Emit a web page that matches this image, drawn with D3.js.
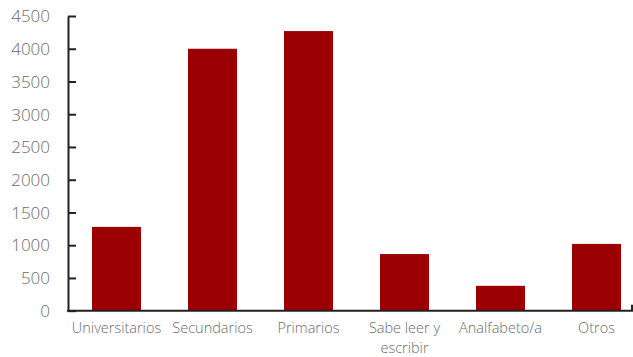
<!DOCTYPE html>
<html><head><meta charset="utf-8">
<script src="https://cdn.jsdelivr.net/npm/d3@7"></script>
<style>body{margin:0;background:#fff}svg{display:block}text{font-family:"Open Sans",sans-serif;font-weight:300;fill:#6b6b6b}</style>
</head><body>
<script>
const categories = ["Universitarios","Secundarios","Primarios","Sabe leer y escribir","Analfabeto/a","Otros"];
const labelLines = [["Universitarios"],["Secundarios"],["Primarios"],["Sabe leer y","escribir"],["Analfabeto/a"],["Otros"]];
const values = [1280, 4000, 4270, 865, 380, 1020];
const yTicks = [0,500,1000,1500,2000,2500,3000,3500,4000,4500];

const W=633,H=357;
const svg=d3.select("body").append("svg").attr("width",W).attr("height",H);
const x=d3.scaleBand().domain(categories).range([68.5,644.5]).paddingInner(0.49).paddingOuter(0.245);
const y=d3.scaleLinear().domain([0,4500]).range([310.7,16]);

svg.append("g").selectAll("rect").data(values).join("rect")
  .attr("x",(d,i)=>x(categories[i])).attr("width",x.bandwidth())
  .attr("y",d=>y(d)).attr("height",d=>y(0)-y(d)).attr("fill","#9b0003");

// y axis
const ya=svg.append("g").attr("transform","translate(68,0)")
  .call(d3.axisLeft(y).tickValues(yTicks).tickFormat(d3.format("d")).tickSize(-8).tickPadding(18).tickSizeOuter(0));
ya.select(".domain").attr("stroke","#222").attr("stroke-width",2);
ya.selectAll(".tick line").attr("stroke","#222").attr("stroke-width",2);
ya.selectAll(".tick text").style("font-size","17px").attr("fill","#6b6b6b").attr("dy","0.34em");

// x axis line
svg.append("line").attr("x1",67).attr("x2",633).attr("y1",y(0)).attr("y2",y(0)).attr("stroke","#222").attr("stroke-width",2);
svg.append("line").attr("x1",632).attr("x2",632).attr("y1",y(0)).attr("y2",y(0)-6).attr("stroke","#222").attr("stroke-width",2);

const lines=[];
categories.forEach((c,i)=>labelLines[i].forEach((l,j)=>lines.push({c,l,j})));
svg.append("g").selectAll("text").data(lines).join("text")
  .attr("text-anchor","middle").attr("x",d=>x(d.c)+x.bandwidth()/2).attr("y",d=>332.5+d.j*20)
  .style("font-size","14.5px").text(d=>d.l);
</script>
</body></html>
